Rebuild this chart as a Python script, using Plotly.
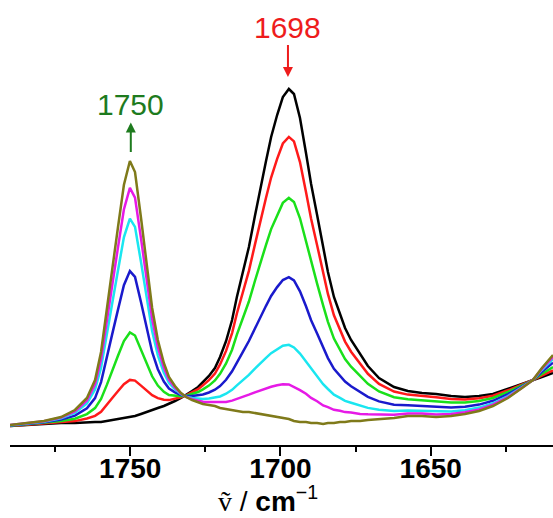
import plotly.graph_objects as go

# wavenumber grid (cm^-1)
wavenumber = [1790.0, 1784.3, 1778.7, 1773.0, 1768.4, 1764.4, 1761.7, 1759.7, 1757.7, 1756.1,
              1754.1, 1752.1, 1750.1, 1748.4, 1746.4, 1744.7, 1742.7, 1740.8, 1738.8, 1737.1,
              1735.1, 1733.1, 1731.4, 1729.4, 1727.4, 1725.8, 1723.8, 1721.8, 1720.1, 1718.1,
              1716.1, 1714.5, 1712.5, 1710.5, 1708.5, 1706.8, 1704.8, 1703.1, 1701.1, 1699.2,
              1697.2, 1695.5, 1693.5, 1691.5, 1689.8, 1687.8, 1685.8, 1684.2, 1682.2, 1680.2,
              1678.5, 1676.5, 1673.5, 1670.9, 1667.2, 1662.2, 1657.6, 1652.9, 1648.2, 1643.2,
              1638.6, 1633.9, 1629.3, 1624.3, 1619.6, 1616.0, 1613.0, 1609.3]

# absorbance (mOD) of each spectrum
abs_black = [14, 15, 16, 17, 17, 18, 18, 18, 19, 20, 21, 22, 23, 24, 26, 28, 30, 32, 34, 36,
             39, 42, 45, 49, 53, 58, 64, 72, 83, 99, 120, 143, 168, 193, 224, 251, 279, 303, 325, 343,
             351, 346, 322, 287, 256, 225, 193, 168, 143, 125, 112, 100, 86, 74, 62, 53, 49, 47, 46, 44,
             43, 44, 46, 51, 56, 60, 63, 67]
abs_red = [14.1, 15.3, 16.4, 17.9, 18.9, 21.5, 24.1, 28.2, 35.1, 41.5, 48.7, 55.8, 60.1, 59.4, 54.4,
           49.8, 44.8, 41.9, 40.2, 39.9, 41.2, 42.7, 44.7, 47.7, 50.8, 54.8, 59.8, 66.5, 75.6, 89.1,
           106.9, 126.5, 147.7, 169.1, 195.4, 218.4, 242.2, 262.5, 281.2, 296.5, 303.1, 298.6, 277.9,
           248.0, 221.3, 194.8, 167.3, 146.1, 124.7, 109.5, 98.4, 88.3, 76.3, 66.2, 56.1, 48.5, 45.4,
           43.7, 42.7, 41.1, 40.5, 41.8, 44.3, 49.7, 55.4, 60.0, 64.3, 69.6]
abs_green = [14.3, 15.7, 17.0, 19.0, 21.3, 25.9, 31.9, 41.1, 55.6, 68.8, 84.0, 98.9, 107.5, 104.5, 90.7,
             77.5, 63.7, 54.4, 48.2, 44.9, 44.0, 43.7, 44.3, 46.0, 48.0, 50.7, 54.4, 59.5, 66.2, 76.6,
             90.3, 105.4, 121.8, 138.5, 159.0, 176.7, 195.2, 210.9, 225.3, 237.1, 242.1, 238.1, 221.7,
             198.2, 177.1, 156.4, 134.6, 118.2, 101.4, 89.7, 81.0, 73.3, 63.9, 56.2, 48.5, 42.8, 40.7,
             39.4, 38.4, 37.4, 37.4, 39.0, 42.0, 48.0, 54.7, 60.0, 66.0, 72.9]
abs_blue = [14.6, 16.1, 17.7, 20.4, 24.4, 31.7, 41.9, 57.9, 82.3, 104.4, 129.9, 154.8, 168.9, 163.1, 137.7,
            113.5, 88.1, 70.8, 58.5, 51.4, 47.6, 44.9, 43.9, 43.9, 44.4, 45.5, 47.5, 50.3, 53.9, 60.2,
            68.7, 78.0, 88.2, 99.0, 111.7, 122.7, 134.2, 144.0, 152.9, 160.0, 162.9, 159.6, 148.7,
            133.7, 119.8, 106.4, 92.1, 81.9, 71.2, 64.0, 58.4, 53.8, 47.8, 43.2, 38.6, 35.3, 34.7,
            33.9, 32.9, 32.6, 33.3, 35.4, 39.2, 45.9, 53.7, 60.0, 68.1, 77.3]
abs_cyan = [14.8, 16.6, 18.3, 21.7, 27.1, 36.6, 50.6, 72.3, 105.0, 134.7, 169.0, 202.6, 221.4, 213.1, 177.9,
            144.3, 109.1, 84.7, 67.3, 56.9, 50.6, 45.9, 43.4, 42.0, 41.4, 40.9, 41.5, 42.5, 43.5, 46.3,
            50.2, 54.6, 59.5, 65.1, 71.3, 76.6, 82.1, 86.8, 90.9, 94.2, 95.2, 92.6, 86.4,
            78.5, 70.8, 63.8, 55.8, 51.0, 45.3, 42.1, 39.1, 37.2, 34.1, 32.1, 30.2, 29.0, 29.6,
            29.2, 28.2, 28.5, 29.8, 32.4, 36.7, 44.0, 52.9, 60.0, 70.0, 81.0]
abs_magenta = [14.9, 16.8, 18.7, 22.4, 28.6, 39.5, 55.6, 80.7, 118.3, 152.5, 191.9, 230.5, 252.1, 242.4, 201.4,
               162.3, 121.3, 92.9, 72.5, 60.2, 52.4, 46.5, 43.2, 40.9, 39.6, 38.3, 38.0, 38.0, 37.4, 38.1,
               39.4, 41.0, 42.7, 45.3, 47.7, 49.6, 51.7, 53.3, 54.7, 55.7, 55.6, 53.3, 49.9,
               46.2, 42.1, 38.8, 34.6, 32.9, 30.2, 29.2, 27.9, 27.5, 26.0, 25.7, 25.3, 25.3, 26.6,
               26.4, 25.4, 26.1, 27.8, 30.6, 35.3, 42.9, 52.4, 60.0, 71.1, 83.1]
abs_olive = [15, 17, 19, 23, 30, 42, 60, 88, 130, 168, 212, 255, 279, 268, 222, 178, 132, 100, 77, 63,
             54, 47, 43, 40, 38, 36, 35, 34, 32, 31, 30, 29, 28, 28, 27, 26, 25, 24, 23, 22,
             21, 19, 18, 18, 17, 17, 16, 17, 17, 18, 18, 19, 19, 20, 21, 22, 24, 24, 23, 24,
             26, 29, 34, 42, 52, 60, 72, 85]

series = [
    (abs_black, "#000000"),
    (abs_red, "#FF1A1A"),
    (abs_green, "#1AE01A"),
    (abs_blue, "#1A1ACC"),
    (abs_cyan, "#1AE6F0"),
    (abs_magenta, "#E61AE6"),
    (abs_olive, "#7F7A1A"),
]

tick_vals = [1750, 1700, 1650]
tick_text = ["1750", "1700", "1650"]

fig = go.Figure()
for ys, col in series:
    fig.add_trace(go.Scatter(x=wavenumber, y=ys, mode="lines",
                             line=dict(color=col, width=2.5), showlegend=False,
                             hoverinfo="skip"))

FONT = "Liberation Sans, Arial, sans-serif"

fig.update_layout(
    width=553, height=518,
    margin=dict(l=10, r=0, t=0, b=73),
    plot_bgcolor="white", paper_bgcolor="white",
    xaxis=dict(range=[1790, 1609.3], showgrid=False, zeroline=False,
               showline=True, linecolor="black", linewidth=2,
               ticks="outside", ticklen=9, tickwidth=2, tickcolor="black",
               tickvals=tick_vals, ticktext=tick_text, ticklabelstandoff=-12,
               tickfont=dict(family=FONT, size=28, color="black", weight="bold"),
               minor=dict(tickvals=[1775, 1725, 1675, 1625], ticks="outside",
                          ticklen=5, tickwidth=2, tickcolor="black")),
    yaxis=dict(range=[-5, 440], visible=False),
    annotations=[
        dict(x=1697.5, y=363, text="1698", showarrow=True, ax=0, ay=-50,
             arrowhead=2, arrowsize=1, arrowwidth=2, arrowcolor="#EE1C1C",
             font=dict(family=FONT, size=30, color="#EE1C1C")),
        dict(x=1749.8, y=288, text="1750", showarrow=True, ax=0, ay=-47.5,
             arrowside="start", startarrowhead=2, startarrowsize=1,
             arrowwidth=2, arrowcolor="#1E7B1E",
             font=dict(family=FONT, size=30, color="#1E7B1E")),
        dict(xref="paper", yref="paper", x=(217 - 10) / 543, y=-73 / 445,
             xanchor="left", yanchor="bottom", showarrow=False, borderpad=0,
             text='<span style="font-family:Liberation Serif">ṽ</span> / <b>cm</b><sup>−1</sup>',
             font=dict(family=FONT, size=28, color="black")),
    ],
)

fig.write_html("out.html", config={"displayModeBar": False},
               post_script="document.body.style.margin='0px';")
